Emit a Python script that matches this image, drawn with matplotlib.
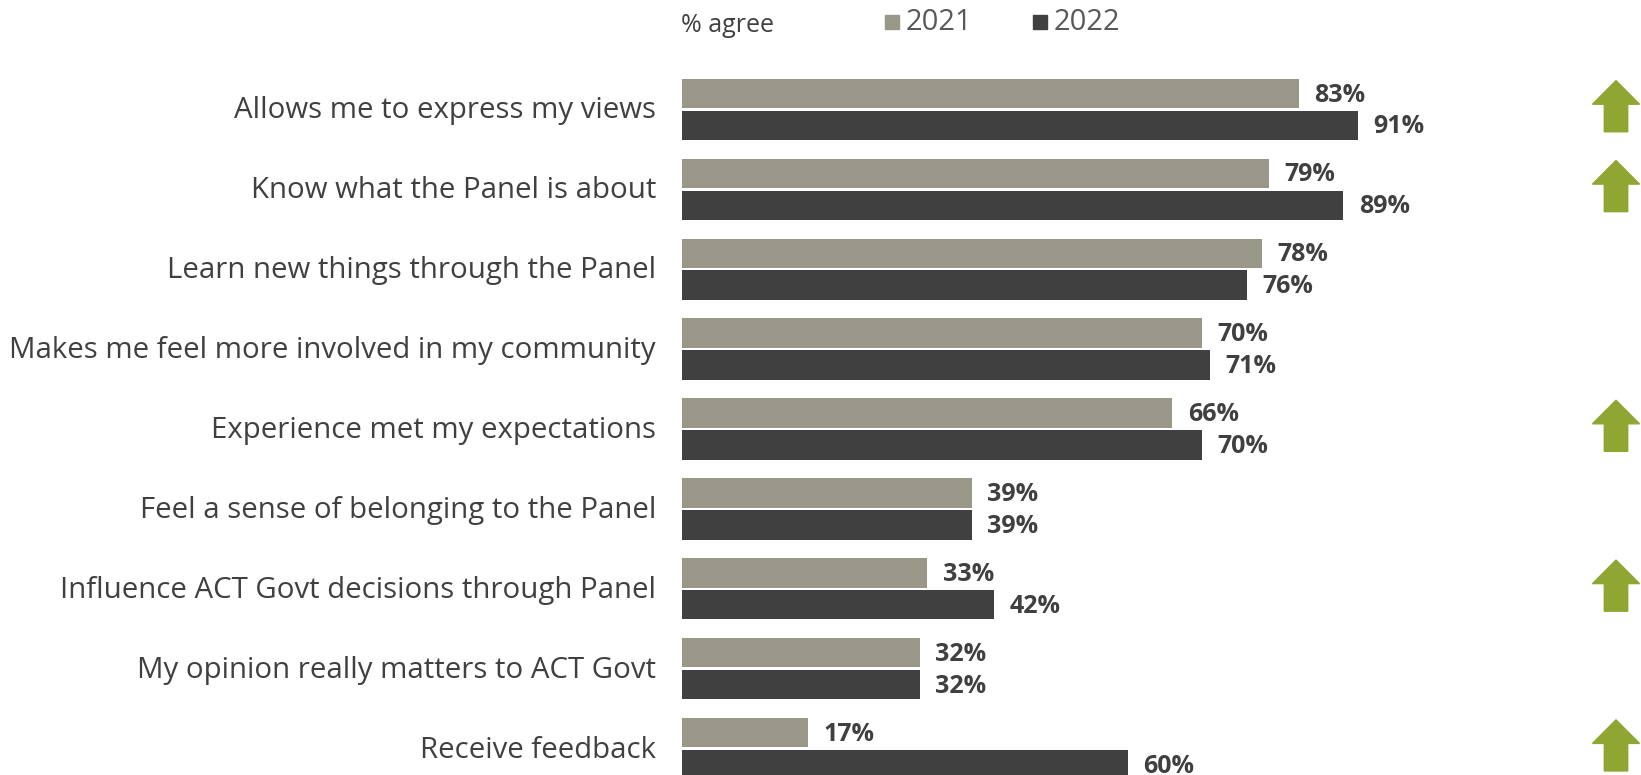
import matplotlib.pyplot as plt
from matplotlib.patches import Polygon, Rectangle

# survey statements and % agree per year
labels = [
    "Allows me to express my views",
    "Know what the Panel is about",
    "Learn new things through the Panel",
    "Makes me feel more involved in my community",
    "Experience met my expectations",
    "Feel a sense of belonging to the Panel",
    "Influence ACT Govt decisions through Panel",
    "My opinion really matters to ACT Govt",
    "Receive feedback",
]
pct_2021 = [83, 79, 78, 70, 66, 39, 33, 32, 17]
pct_2022 = [91, 89, 76, 71, 70, 39, 42, 32, 60]
# significant increase on last year
sig_up = [True, True, False, False, True, False, True, False, True]

c2021 = "#999888"
c2022 = "#404040"
green = "#8fa633"
txt = "#404040"

W, H = 1641, 775
fig = plt.figure(figsize=(W / 100, H / 100), dpi=100)

# axes start where the bars start; y in row units
x0 = 682
px_x = 7.43
px_y = 79.9
row0 = 109.4
ax = fig.add_axes([x0 / W, 0, (W - x0) / W, 1])
ax.set_xlim(0, (W - x0) / px_x)
ax.set_ylim((H - row0) / px_y, -row0 / px_y)
ax.axis("off")

bh = 0.368
rows = range(len(labels))
ax.barh([i - 0.2 for i in rows], pct_2021, height=bh, color=c2021)
ax.barh([i + 0.2 for i in rows], pct_2022, height=bh, color=c2022)

for i in rows:
    ax.text(pct_2021[i] + 2.1, i - 0.18, f"{pct_2021[i]}%", ha="left", va="center",
            fontsize=18, fontweight="bold", color=txt, family="Open Sans")
    ax.text(pct_2022[i] + 2.1, i + 0.22, f"{pct_2022[i]}%", ha="left", va="center",
            fontsize=18, fontweight="bold", color=txt, family="Open Sans")
    ax.text(-26 / px_x, i + 0.02, labels[i], ha="right", va="center", fontsize=21.2,
            color=txt, family="Open Sans", clip_on=False)

# up arrows for significant increases
ax_c = (1616 - x0) / px_x
hw, sw = 23.5 / px_x, 11.7 / px_x
for i in rows:
    if not sig_up[i]:
        continue
    top = i - 0.36
    neck = top + 0.295
    bot = top + 0.64
    pts = [(ax_c, top), (ax_c + hw, neck), (ax_c + sw, neck), (ax_c + sw, bot),
           (ax_c - sw, bot), (ax_c - sw, neck), (ax_c - hw, neck)]
    ax.add_patch(Polygon(pts, closed=True, color=green, clip_on=False))

# header: unit note and legend
fig.text(681 / W, 1 - 26 / H, "% agree", ha="left", va="center", fontsize=18,
         color=txt, family="Open Sans")
for xs, col, year in [(885, c2021, "2021"), (1033, c2022, "2022")]:
    fig.patches.append(Rectangle((xs / W, 1 - 29 / H), 14 / W, 14 / H, color=col,
                                 transform=fig.transFigure, figure=fig))
    fig.text((xs + 21) / W, 1 - 23 / H, year, ha="left", va="center", fontsize=21,
             color="#595959", family="Open Sans")

fig.savefig("out.png", dpi=100, facecolor="white")
